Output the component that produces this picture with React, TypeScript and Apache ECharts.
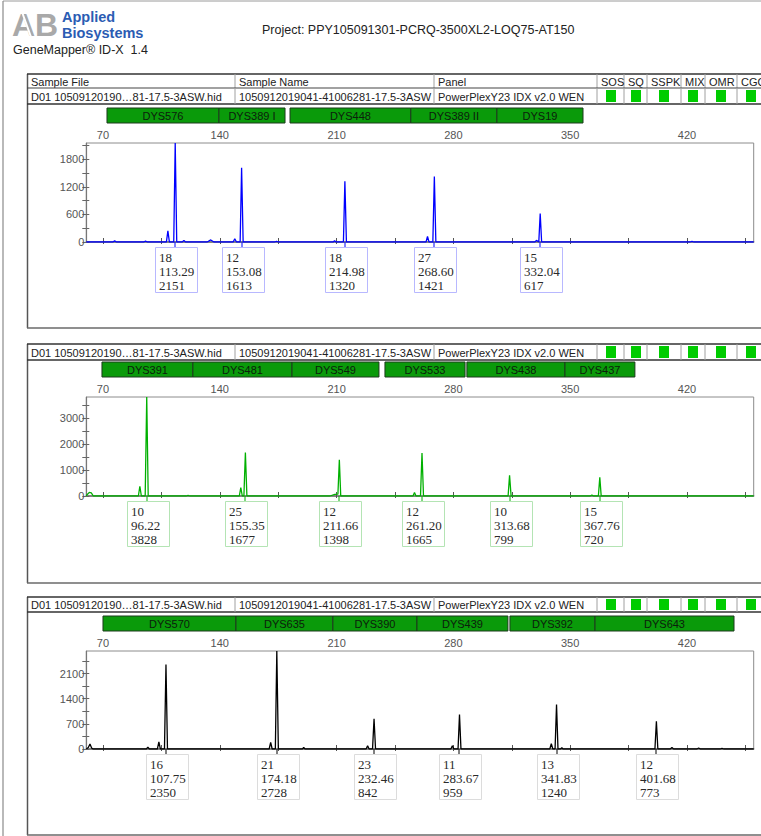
import React, { useEffect, useRef } from "react";
import * as echarts from "echarts";

// ---------- axis definitions ----------
const X_MIN = 60;
const X_MAX = 460;
const xTickValues = [70, 105, 140, 175, 210, 245, 280, 315, 350, 385, 420, 455];
const xLabelValues = [70, 140, 210, 280, 350, 420];

const yTicks1 = [0, 300, 600, 900, 1200, 1500, 1800, 2100];
const yLabels1 = [0, 600, 1200, 1800];
const yMax1 = 2151;
const yTicks2 = [0, 500, 1000, 1500, 2000, 2500, 3000, 3500];
const yLabels2 = [0, 1000, 2000, 3000];
const yMax2 = 3828;
const yTicks3 = [0, 350, 700, 1050, 1400, 1750, 2100, 2450];
const yLabels3 = [0, 700, 1400, 2100];
const yMax3 = 2728;

// ---------- traces (size bp, RFU) ----------
const trace1 = [
  [60, 0], [76, 0], [77, 25], [78, 0], [94.5, 0], [95.5, 20], [96.5, 0],
  [108, 0], [108.9, 240], [109.8, 0], [112.4, 0], [113.29, 2151], [114.2, 0],
  [117.5, 0], [118.5, 35], [119.5, 0], [132.5, 0], [134.6, 45], [136.5, 0],
  [148, 0], [149, 70], [150, 0], [152.2, 0], [153.08, 1613], [154, 0],
  [173, 0], [174, 15], [175, 0], [208, 0], [208.8, 30], [209.6, 0],
  [214.1, 0], [214.98, 1320], [215.9, 0], [263.6, 0], [264.5, 120], [265.4, 0],
  [267.7, 0], [268.6, 1421], [269.5, 0], [328.8, 0], [329.8, 35], [330.8, 10],
  [331.2, 0], [332.04, 617], [332.9, 0], [422, 0], [423, 15], [424, 0], [460, 0],
];
const trace2 = [
  [60, 0], [60.6, 60], [61.8, 140], [63, 120], [64.2, 0], [91.2, 0], [92.1, 373], [93, 0],
  [95.3, 0], [96.22, 3828], [97.1, 0], [120, 0], [121, 20], [122, 0],
  [151.7, 0], [152.6, 320], [153.5, 0], [154.45, 0], [155.35, 1677], [156.25, 0],
  [206, 0], [209, 60], [210.8, 70], [211.66, 1398], [212.5, 0],
  [255.8, 0], [256.7, 140], [257.6, 0], [260.3, 0], [261.2, 1665], [262.1, 0],
  [312.8, 0], [313.68, 799], [314.6, 0], [362, 0], [363, 40], [364, 0],
  [366.9, 0], [367.76, 720], [368.6, 0], [460, 0],
];
const trace3 = [
  [60, 0], [61.2, 40], [62.2, 140], [63.2, 30], [64, 0], [96, 0], [96.9, 50], [97.8, 0],
  [102.6, 0], [103.5, 196], [104.4, 0], [106.85, 0], [107.75, 2350], [108.65, 0],
  [169.6, 0], [170.5, 187], [171.4, 0], [173.3, 0], [174.18, 2728], [175.1, 0],
  [189.5, 0], [190.3, 40], [191.1, 0], [227.7, 0], [228.6, 93], [229.5, 0],
  [231.55, 0], [232.46, 842], [233.35, 0], [278.5, 0], [279.4, 93], [280.3, 0],
  [282.8, 0], [283.67, 959], [284.55, 0], [337.8, 0], [338.7, 150], [339.6, 0],
  [340.95, 0], [341.83, 1240], [342.7, 0], [344.3, 0], [345, 40], [345.7, 0],
  [400.8, 0], [401.68, 773], [402.55, 0], [410, 0], [411, 40], [412, 0],
  [426, 0], [427, 30], [428, 0], [440, 0], [441, 20], [442, 0], [460, 0],
];

// ---------- called peaks ----------
const alleles1 = ["18", "12", "18", "27", "15"];
const sizes1 = [113.29, 153.08, 214.98, 268.6, 332.04];
const heights1 = [2151, 1613, 1320, 1421, 617];
const alleles2 = ["10", "25", "12", "12", "10", "15"];
const sizes2 = [96.22, 155.35, 211.66, 261.2, 313.68, 367.76];
const heights2 = [3828, 1677, 1398, 1665, 799, 720];
const alleles3 = ["16", "21", "23", "11", "13", "12"];
const sizes3 = [107.75, 174.18, 232.46, 283.67, 341.83, 401.68];
const heights3 = [2350, 2728, 842, 959, 1240, 773];

// ---------- marker bins ----------
const markerNames1 = ["DYS576", "DYS389 I", "DYS448", "DYS389 II", "DYS19"];
const markerStarts1 = [72.4, 139.5, 182.1, 254.5, 306.1];
const markerEnds1 = [139.5, 179.1, 254.5, 306.1, 357.7];
const markerNames2 = ["DYS391", "DYS481", "DYS549", "DYS533", "DYS438", "DYS437"];
const markerStarts2 = [69.4, 123.9, 183.3, 239, 288.1, 346.9];
const markerEnds2 = [123.9, 183.3, 235.4, 287, 346.9, 388.8];
const markerNames3 = ["DYS570", "DYS635", "DYS390", "DYS439", "DYS392", "DYS643"];
const markerStarts3 = [70, 149.7, 207.8, 258.2, 313.9, 364.9];
const markerEnds3 = [149.7, 207.8, 258.2, 312.7, 364.9, 448.2];

// ---------- header table ----------
const headerTitles = ["Sample File", "Sample Name", "Panel", "SOS", "SQ", "SSPK", "MIX", "OMR", "CGQ"];
const sampleFile = "D01 10509120190…81-17.5-3ASW.hid";
const sampleName = "1050912019041-41006281-17.5-3ASW";
const panelName = "PowerPlexY23 IDX v2.0 WEN";
const projectTitle = "Project: PPY105091301-PCRQ-3500XL2-LOQ75-AT150";

const SANS = "Liberation Sans, Arial, sans-serif";
const SERIF = "Liberation Serif, Times New Roman, serif";

export default function App() {
  const ref = useRef<HTMLDivElement>(null);

  useEffect(() => {
    if (!ref.current) return;
    const chart = echarts.init(ref.current, undefined, { renderer: "svg" });

    const panels = [
      { plotTop: 143, plotH: 99, tableTop: 74, titleRow: true, rowTop: 88, rowBottom: 104, bottom: 328,
        color: "#0000ff", boxColor: "#b8b8ff", yMax: yMax1, yTicks: yTicks1, yLabels: yLabels1, trace: trace1,
        alleles: alleles1, sizes: sizes1, heights: heights1,
        mNames: markerNames1, mStarts: markerStarts1, mEnds: markerEnds1 },
      { plotTop: 397, plotH: 99, tableTop: 344, titleRow: false, rowTop: 344, rowBottom: 360, bottom: 583,
        color: "#00b000", boxColor: "#b4e4b4", yMax: yMax2, yTicks: yTicks2, yLabels: yLabels2, trace: trace2,
        alleles: alleles2, sizes: sizes2, heights: heights2,
        mNames: markerNames2, mStarts: markerStarts2, mEnds: markerEnds2 },
      { plotTop: 651, plotH: 98, tableTop: 597, titleRow: false, rowTop: 597, rowBottom: 612, bottom: 835,
        color: "#000000", boxColor: "#dcdcdc", yMax: yMax3, yTicks: yTicks3, yLabels: yLabels3, trace: trace3,
        alleles: alleles3, sizes: sizes3, heights: heights3,
        mNames: markerNames3, mStarts: markerStarts3, mEnds: markerEnds3 },
    ];

    const GRID_LEFT = 86.3;
    const GRID_W = 667.4;
    const colX = [27, 235, 434, 597, 624, 647, 681, 705, 737];
    const squareX = [606, 631, 659, 688, 716, 746];

    // ---------- static graphics ----------
    const g: any[] = [];
    const ln = (x1: number, y1: number, x2: number, y2: number, stroke: string, lw = 1) =>
      g.push({ type: "line", silent: true, shape: { x1, y1, x2, y2 }, style: { stroke, lineWidth: lw } });
    const tx = (x: number, y: number, t: string, extra: any = {}) =>
      g.push({ type: "text", silent: true, x, y,
        style: { text: t, fill: "#222", fontSize: 11, fontFamily: SANS, verticalAlign: "middle", align: "left", ...extra } });

    // page frame
    ln(3, 1, 761, 1, "#9a9a9a", 1);
    ln(3, 1, 3, 836, "#8a8a8a", 1.2);

    // logo
    tx(12, 25, "AB", { fontSize: 32, fontWeight: "bold", fill: "#a9a9a9", fontFamily: SANS });
    ln(22, 12, 31, 37, "#ffffff", 2);
    tx(62, 17, "Applied", { fontSize: 14.5, fontWeight: "bold", fill: "#2b5cb3", lineHeight: 13 });
    tx(62, 33, "Biosystems", { fontSize: 14.5, fontWeight: "bold", fill: "#2b5cb3", lineHeight: 13 });
    tx(13, 50, "GeneMapper® ID-X  1.4", { fontSize: 12.5, fill: "#222" });
    tx(262, 30, projectTitle, { fontSize: 12.5, fill: "#222" });

    panels.forEach((p) => {
      // panel frame
      ln(27.5, p.tableTop, 27.5, p.bottom, "#555", 1.5);
      ln(27, p.bottom, 761, p.bottom, "#6a6a6a", 1.5);
      // table rows
      if (p.titleRow) {
        ln(27, p.tableTop, 761, p.tableTop, "#333", 1.5);
        colX.slice(1).forEach((x) => ln(x, p.tableTop, x, p.rowTop, "#a0a0a0", 1));
        headerTitles.forEach((t, i) => tx(colX[i] + 4, (p.tableTop + p.rowTop) / 2 + 0.5, t));
        ln(27, p.rowTop, 761, p.rowTop, "#444", 1.2);
      } else {
        ln(27, p.rowTop, 761, p.rowTop, "#333", 1.5);
      }
      ln(27, p.rowBottom, 761, p.rowBottom, "#333", 1.5);
      colX.slice(1).forEach((x) => ln(x, p.rowTop, x, p.rowBottom, "#a0a0a0", 1));
      const cy = (p.rowTop + p.rowBottom) / 2 + 0.5;
      tx(colX[0] + 4, cy, sampleFile);
      tx(colX[1] + 4, cy, sampleName);
      tx(colX[2] + 4, cy, panelName);
      squareX.forEach((x) =>
        g.push({ type: "rect", silent: true, shape: { x, y: p.rowTop + 2, width: 10, height: p.rowBottom - p.rowTop - 4 },
          style: { fill: "#00cc00" } }));
    });

    // ---------- axes ----------
    const grids = panels.map((p) => ({
      left: GRID_LEFT, top: p.plotTop, width: GRID_W, height: p.plotH,
      show: true, borderColor: "#8c8c8c", borderWidth: 1, backgroundColor: "transparent",
    }));

    const plain = (v: number) => String(v);
    const xAxes: any[] = [];
    const yAxes: any[] = [];
    panels.forEach((p, i) => {
      xAxes.push({
        gridIndex: i, type: "value", position: "top", min: X_MIN, max: X_MAX,
        axisLine: { show: true, lineStyle: { color: "#6e6e6e", width: 1.5 } },
        axisTick: { show: true, inside: false, length: 4, customValues: xTickValues, lineStyle: { color: "#555" } },
        axisLabel: { show: true, customValues: xLabelValues, formatter: plain, margin: 3, fontSize: 11, color: "#555", fontFamily: SANS },
        splitLine: { show: false },
      });
      xAxes.push({
        gridIndex: i, type: "value", position: "top", min: X_MIN, max: X_MAX,
        axisLine: { show: false },
        axisTick: { show: true, inside: true, length: 2, customValues: xTickValues, lineStyle: { color: "#555" } },
        axisLabel: { show: false },
        splitLine: { show: false },
      });
      yAxes.push({
        gridIndex: i, type: "value", position: "left", min: 0, max: p.yMax,
        axisLine: { show: true, lineStyle: { color: "#777", width: 1.2 } },
        axisTick: { show: true, inside: false, length: 4, customValues: p.yTicks, lineStyle: { color: "#666" } },
        axisLabel: { show: true, customValues: p.yLabels, formatter: plain, margin: 2, fontSize: 11, color: "#555", fontFamily: SANS },
        splitLine: { show: false },
      });
      yAxes.push({
        gridIndex: i, type: "value", position: "left", min: 0, max: p.yMax,
        axisLine: { show: false },
        axisTick: { show: true, inside: true, length: 3, customValues: p.yTicks, lineStyle: { color: "#666" } },
        axisLabel: { show: false },
        splitLine: { show: false },
      });
    });

    // ---------- series ----------
    const series: any[] = [];
    panels.forEach((p, i) => {
      series.push({
        type: "line", xAxisIndex: 2 * i, yAxisIndex: 2 * i, data: p.trace,
        showSymbol: false, symbol: "none", smooth: false, z: 4,
        lineStyle: { color: p.color, width: 1.3 },
      });
      // called-peak label boxes
      series.push({
        type: "custom", xAxisIndex: 2 * i, yAxisIndex: 2 * i, clip: false, z: 5,
        data: p.sizes.map((s, k) => [s, p.heights[k]]),
        renderItem: (params: any, api: any) => {
          const k = params.dataIndex;
          const pt = api.coord([api.value(0), 0]);
          const px = Math.round(pt[0]);
          const py = pt[1];
          return {
            type: "group",
            children: [
              { type: "line", shape: { x1: px, y1: py, x2: px, y2: py + 6 }, style: { stroke: p.color, lineWidth: 1 } },
              { type: "rect", shape: { x: px - 19.5, y: py + 5.5, width: 42, height: 45 },
                style: { fill: "#ffffff", stroke: p.boxColor, lineWidth: 1 } },
              { type: "text",
                style: { text: `${p.alleles[k]}\n${p.sizes[k].toFixed(2)}\n${p.heights[k]}`,
                  x: px - 16, y: py + 8, fill: "#2a2a2a", fontSize: 13, fontFamily: SERIF,
                  lineHeight: 14, verticalAlign: "top", align: "left" } },
            ],
          };
        },
      });
      // marker bins
      series.push({
        type: "custom", xAxisIndex: 2 * i, yAxisIndex: 2 * i, clip: false, z: 5,
        data: p.mStarts.map((s, k) => [s, p.mEnds[k]]),
        encode: { x: [0, 1] },
        renderItem: (params: any, api: any) => {
          const k = params.dataIndex;
          const a = api.coord([api.value(0), 0]);
          const b = api.coord([api.value(1), 0]);
          const top = params.coordSys.y - 35;
          return {
            type: "group",
            children: [
              { type: "rect", shape: { x: a[0], y: top, width: b[0] - a[0], height: 15 },
                style: { fill: "#0a9a0a", stroke: "#1d3a1d", lineWidth: 1 } },
              { type: "text",
                style: { text: p.mNames[k], x: (a[0] + b[0]) / 2, y: top + 8, align: "center", verticalAlign: "middle",
                  fontSize: 11, fontFamily: SANS, fill: "#0c200c" } },
            ],
          };
        },
      });
    });

    chart.setOption({
      animation: false,
      backgroundColor: "#ffffff",
      grid: grids,
      xAxis: xAxes,
      yAxis: yAxes,
      series,
      graphic: { elements: g },
    });

    return () => chart.dispose();
  }, []);

  return (
    <div
      ref={ref}
      style={{ position: "fixed", left: 0, top: 0, width: 761, height: 836, background: "#fff" }}
    />
  );
}
